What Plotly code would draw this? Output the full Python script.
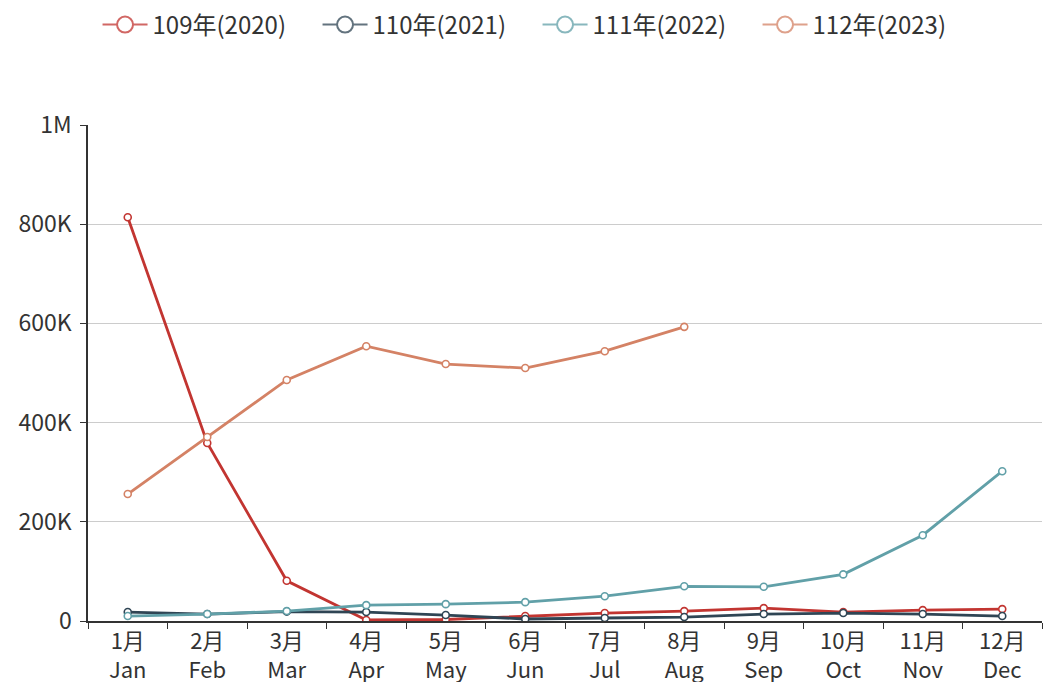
import plotly.graph_objects as go

months = ["1月<br>Jan", "2月<br>Feb", "3月<br>Mar", "4月<br>Apr", "5月<br>May", "6月<br>Jun",
          "7月<br>Jul", "8月<br>Aug", "9月<br>Sep", "10月<br>Oct", "11月<br>Nov", "12月<br>Dec"]

names = ["109年(2020)", "110年(2021)", "111年(2022)", "112年(2023)"]
colors = ["#c23531", "#2f4554", "#61a0a8", "#d48265"]

y2020 = [814000, 359000, 81000, 2000, 3000, 10000, 16000, 20000, 26000, 18000, 22000, 24000]
y2021 = [18000, 14000, 19000, 18000, 12000, 4000, 6000, 8000, 14000, 16000, 14000, 10000]
y2022 = [10000, 14000, 20000, 32000, 34000, 38000, 50000, 70000, 69000, 94000, 173000, 302000]
y2023 = [256000, 371000, 486000, 554000, 518000, 510000, 544000, 593000]

series = [y2020, y2021, y2022, y2023]

ytick_vals = [0, 200000, 400000, 600000, 800000, 1000000]
ytick_text = ["0", "200K", "400K", "600K", "800K", "1M"]

fig = go.Figure()
for name, color, vals in zip(names, colors, series):
    fig.add_trace(go.Scatter(
        x=months[:len(vals)], y=vals, name=name, mode="lines+markers",
        line=dict(color=color, width=2.8), showlegend=False,
        marker=dict(symbol="circle", size=7, color="white", line=dict(color=color, width=1.6)),
    ))
# legend-only entries (big hollow circle with thin line, like the reference)
for name, color in zip(names, colors):
    fig.add_trace(go.Scatter(
        x=[None], y=[None], name=name, mode="lines+markers",
        line=dict(color=color, width=2), opacity=0.75,
        marker=dict(symbol="circle", size=16, color="white", line=dict(color=color, width=2)),
    ))

fig.update_layout(
    width=1043, height=682,
    margin=dict(l=88, r=1, t=125, b=61),
    paper_bgcolor="white", plot_bgcolor="white",
    font=dict(family="Noto Sans CJK SC, Noto Sans, sans-serif", size=22, color="#333"),
    showlegend=True,
    legend=dict(orientation="h", x=0.01, xanchor="left", y=1 - 25 / 682, yref="container",
                yanchor="middle", font=dict(size=24, color="#333"), itemwidth=45,
                entrywidth=160, entrywidthmode="pixels", itemsizing="trace"),
    xaxis=dict(type="category", categoryorder="array", categoryarray=months,
               tickson="boundaries", ticks="outside", ticklen=6, tickcolor="#333",
               showline=True, linecolor="#333", linewidth=1.5, showgrid=False, automargin=False,
               range=[-0.5, 11.5], tickfont=dict(size=22, color="#333")),
    yaxis=dict(range=[0, 1000000], tickvals=ytick_vals, ticktext=ytick_text,
               ticks="outside", ticklen=6, tickcolor="#333", automargin=False,
               ticklabelstandoff=4,
               showline=True, linecolor="#333", linewidth=1.5,
               showgrid=True, gridcolor="#ccc", gridwidth=1, zeroline=False,
               tickfont=dict(size=23, color="#333")),
)

fig.write_html(
    "out.html",
    config={"responsive": False, "displayModeBar": False},
    post_script="document.body.style.margin='0';document.body.style.overflow='hidden';",
)
